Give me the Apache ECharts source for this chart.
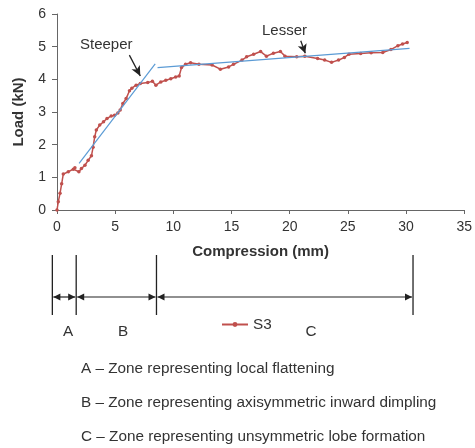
<!DOCTYPE html>
<html>
<head>
<meta charset="utf-8">
<script src="https://cdn.jsdelivr.net/npm/echarts@6/dist/echarts.min.js"></script>
<style>
  html, body { margin: 0; padding: 0; background: #fff; }
  #chart { width: 475px; height: 448px; }
</style>
</head>
<body>
<div id="chart"></div>
<script>
// compression (mm) and load (kN) for specimen S3
const compression = [0, 0.11, 0.26, 0.4, 0.54, 0.97, 1.4, 1.54, 1.88, 2.1, 2.4, 2.68, 2.96, 3.1, 3.24, 3.38,
  3.67, 4.0, 4.3, 4.66, 4.95, 5.23, 5.43, 5.66, 5.94, 6.23, 6.43, 6.8, 7.16, 7.8, 8.2, 8.5, 8.92, 9.35,
  9.78, 10.2, 10.5, 10.7, 11.05, 11.48, 12.2, 13.33, 14.04, 14.75, 15.17, 15.9, 16.3, 16.9, 17.5, 18.0,
  18.6, 19.2, 19.6, 20.6, 21.3, 22.4, 23.0, 23.6, 24.2, 24.7, 25.1, 26.1, 27.0, 28.0, 28.7, 29.3, 29.7, 30.1];
const load = [0, 0.25, 0.51, 0.8, 1.1, 1.17, 1.25, 1.29, 1.17, 1.27, 1.37, 1.52, 1.66, 1.92, 2.24, 2.45,
  2.6, 2.7, 2.8, 2.88, 2.9, 2.97, 3.06, 3.26, 3.41, 3.65, 3.73, 3.82, 3.87, 3.9, 3.94, 3.82, 3.92, 3.97,
  4.02, 4.07, 4.1, 4.36, 4.46, 4.51, 4.46, 4.44, 4.31, 4.38, 4.46, 4.59, 4.69, 4.77, 4.85, 4.71,
  4.8, 4.85, 4.71, 4.69, 4.71, 4.64, 4.59, 4.52, 4.59, 4.67, 4.77, 4.79, 4.81, 4.82, 4.91, 5.03, 5.08, 5.13];

// trend lines
const steeperLine = [[1.9, 1.43], [8.44, 4.47]];
const lesserLine = [[8.64, 4.36], [30.3, 4.95]];

// annotation arrows [from, to]
const steeperArrow = [[6.22, 4.74], [7.16, 4.1]];
const lesserArrow = [[20.95, 5.18], [21.34, 4.8]];

// zone boundaries (mm) and labels
const zoneEdges = [-0.4, 1.65, 8.55, 30.6];
const zoneNames = ["A", "B", "C"];
const zoneNotes = [
  "A \u2013 Zone representing local flattening",
  "B \u2013 Zone representing axisymmetric inward dimpling",
  "C \u2013 Zone representing unsymmetric lobe formation"
];

const FONT = "Liberation Sans, Arial, sans-serif";
const TXT = "#333";
const RED = "#c0504d";
const BLUE = "#5b9bd5";

const chart = echarts.init(document.getElementById("chart"), null, { renderer: "canvas" });

const option = {
  animation: false,
  backgroundColor: "#fff",
  textStyle: { fontFamily: FONT },
  grid: { left: 57, right: 7, top: 14, bottom: 238, containLabel: false },
  legend: {
    data: ["S3"],
    left: 216,
    top: 312,
    itemWidth: 26,
    itemHeight: 6,
    textStyle: { fontFamily: FONT, fontSize: 15.3, color: TXT }
  },
  xAxis: {
    type: "value",
    min: 0, max: 35, interval: 5,
    name: "Compression (mm)",
    nameLocation: "middle",
    nameGap: 34,
    nameTextStyle: { fontFamily: FONT, fontSize: 15, fontWeight: "bold", color: TXT },
    axisLine: { lineStyle: { color: "#666", width: 1 } },
    axisTick: { show: true, length: 4, lineStyle: { color: "#666" } },
    axisLabel: { fontFamily: FONT, fontSize: 14, color: TXT, margin: 10 },
    splitLine: { show: false }
  },
  yAxis: {
    type: "value",
    min: 0, max: 6, interval: 1,
    name: "Load (kN)",
    nameLocation: "middle",
    nameGap: 31,
    nameTextStyle: { fontFamily: FONT, fontSize: 15, fontWeight: "bold", color: TXT },
    axisLine: { show: true, lineStyle: { color: "#666", width: 1 } },
    axisTick: { show: true, length: 5, lineStyle: { color: "#666" } },
    axisLabel: { fontFamily: FONT, fontSize: 14, color: TXT, margin: 11 },
    splitLine: { show: false }
  },
  series: [
    {
      name: "S3",
      type: "line",
      data: compression.map((x, i) => [x, load[i]]),
      symbol: "circle",
      symbolSize: 3.5,
      showSymbol: true,
      lineStyle: { color: RED, width: 1.5 },
      itemStyle: { color: RED },
      z: 3
    },
    {
      name: "steeper",
      type: "line",
      data: steeperLine,
      symbol: "none",
      lineStyle: { color: BLUE, width: 1.2 },
      z: 4,
      markLine: {
        silent: true,
        symbol: ["none", "arrow"],
        symbolSize: [7, 10],
        label: { show: false },
        lineStyle: { color: "#222", width: 1.3, type: "solid" },
        data: [[{ coord: steeperArrow[0] }, { coord: steeperArrow[1] }]]
      }
    },
    {
      name: "lesser",
      type: "line",
      data: lesserLine,
      symbol: "none",
      lineStyle: { color: BLUE, width: 1.2 },
      z: 4,
      markLine: {
        silent: true,
        symbol: ["none", "arrow"],
        symbolSize: [7, 9],
        label: { show: false },
        lineStyle: { color: "#222", width: 1.3, type: "solid" },
        data: [[{ coord: lesserArrow[0] }, { coord: lesserArrow[1] }]]
      }
    }
  ]
};

chart.setOption(option);

// zone bars under the axis, placed from the x scale
const edgePx = zoneEdges.map(v => chart.convertToPixel({ xAxisIndex: 0 }, v));
const barY = 297, lineTop = 255, lineBottom = 315, head = 7, half = 3.5;
const g = [];
edgePx.forEach(x => g.push({
  type: "line", shape: { x1: x, y1: lineTop, x2: x, y2: lineBottom },
  style: { stroke: "#222", lineWidth: 1.3 }
}));
for (let i = 0; i < edgePx.length - 1; i++) {
  const a = edgePx[i] + 1, b = edgePx[i + 1] - 1;
  g.push({ type: "line", shape: { x1: a, y1: barY, x2: b, y2: barY }, style: { stroke: "#222", lineWidth: 1.2 } });
  g.push({ type: "polygon", shape: { points: [[a, barY], [a + head, barY - half], [a + head, barY + half]] }, style: { fill: "#222" } });
  g.push({ type: "polygon", shape: { points: [[b, barY], [b - head, barY - half], [b - head, barY + half]] }, style: { fill: "#222" } });
}
const labelX = [68, 123, 311];
zoneNames.forEach((n, i) => g.push({
  type: "text", x: labelX[i], y: 332,
  style: { text: n, font: "15.3px " + FONT, fill: TXT, align: "center", verticalAlign: "middle" }
}));
zoneNotes.forEach((t, i) => g.push({
  type: "text", x: 81, y: 369 + i * 34,
  style: { text: t, font: "15.3px " + FONT, fill: TXT, align: "left", verticalAlign: "middle" }
}));
g.push({ type: "text", x: 80, y: 45, style: { text: "Steeper", font: "15px " + FONT, fill: TXT, verticalAlign: "middle" } });
g.push({ type: "text", x: 262, y: 31, style: { text: "Lesser", font: "15px " + FONT, fill: TXT, verticalAlign: "middle" } });

chart.setOption({ graphic: g });
</script>
</body>
</html>
